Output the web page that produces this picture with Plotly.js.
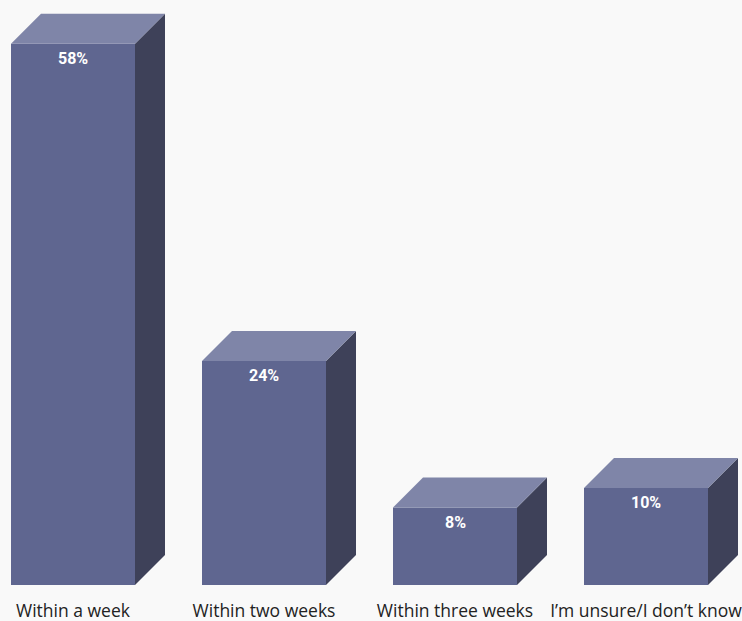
<!DOCTYPE html>
<html>
<head>
<meta charset="utf-8">
<script src="https://cdn.plot.ly/plotly-3.0.1.min.js"></script>
<style>
html,body{margin:0;padding:0;background:#f9f9f9;}
#chart{width:742px;height:621px;}
</style>
</head>
<body>
<div id="chart"></div>
<script>
// ---- data ----
var categories = ["Within a week", "Within two weeks", "Within three weeks", "I\u2019m unsure/I don\u2019t know"];
var values = [58, 24, 8.3, 10.4];
var valueLabels = ["58%", "24%", "8%", "10%"];

// ---- style ----
var W = 742, H = 621;
var mL = 0, mR = 0, mT = 0, mB = 36;
var plotW = W - mL - mR, plotH = H - mT - mB;
var pitchPx = 191, firstCenterPx = 73, pxPerUnitY = 9.33;
var xRange = [-firstCenterPx / pitchPx, (plotW - firstCenterPx) / pitchPx];
var yRange = [0, plotH / pxPerUnitY];
var barW = 124 / pitchPx;
var depthXpx = 30, depthYpx = 30;
var dx = depthXpx * (xRange[1] - xRange[0]) / plotW;
var dy = depthYpx * (yRange[1] - yRange[0]) / plotH;
var frontColor = "#5f6690", topColor = "#7f85a8", sideColor = "#3e4159";

var xs = categories.map(function (c, i) { return i; });

var traces = [];
// side and top faces
xs.forEach(function (x, i) {
  var v = values[i];
  var xl = x - barW / 2, xr = x + barW / 2;
  traces.push({
    type: "scatter", mode: "lines", fill: "toself",
    x: [xr, xr, xr + dx, xr + dx, xr],
    y: [0, v, v + dy, dy, 0],
    fillcolor: sideColor, line: {width: 0, color: sideColor},
    hoverinfo: "skip", showlegend: false
  });
  traces.push({
    type: "scatter", mode: "lines", fill: "toself",
    x: [xl, xl + dx, xr + dx, xr, xl],
    y: [v, v + dy, v + dy, v, v],
    fillcolor: topColor, line: {width: 0, color: topColor},
    hoverinfo: "skip", showlegend: false
  });
});
// front faces
traces.push({
  type: "bar", x: xs, y: values, width: barW,
  marker: {color: frontColor, line: {width: 0}},
  hoverinfo: "skip", showlegend: false
});

var annotations = xs.map(function (x, i) {
  return {
    x: x, y: values[i], xref: "x", yref: "y",
    text: "<b>" + valueLabels[i] + "</b>", showarrow: false,
    yanchor: "top", yshift: -3,
    font: {family: "Roboto, 'Open Sans', sans-serif", size: 16, color: "#ffffff"}
  };
});

var layout = {
  width: W, height: H,
  margin: {l: mL, r: mR, t: mT, b: mB, pad: 0},
  paper_bgcolor: "#f9f9f9", plot_bgcolor: "#f9f9f9",
  showlegend: false,
  xaxis: {
    range: xRange, tickmode: "array", tickvals: xs, ticktext: categories,
    showgrid: false, zeroline: false, showline: false, ticks: "",
    ticklabelstandoff: 13, automargin: false, ticklabeloverflow: "allow",
    tickfont: {family: "'Open Sans', sans-serif", size: 17.5, color: "#222222"},
    fixedrange: true
  },
  yaxis: {
    range: yRange, showgrid: false, zeroline: false, showline: false,
    showticklabels: false, ticks: "", fixedrange: true, automargin: false
  },
  annotations: annotations
};

Plotly.newPlot("chart", traces, layout, {displayModeBar: false, staticPlot: true});
</script>
</body>
</html>
